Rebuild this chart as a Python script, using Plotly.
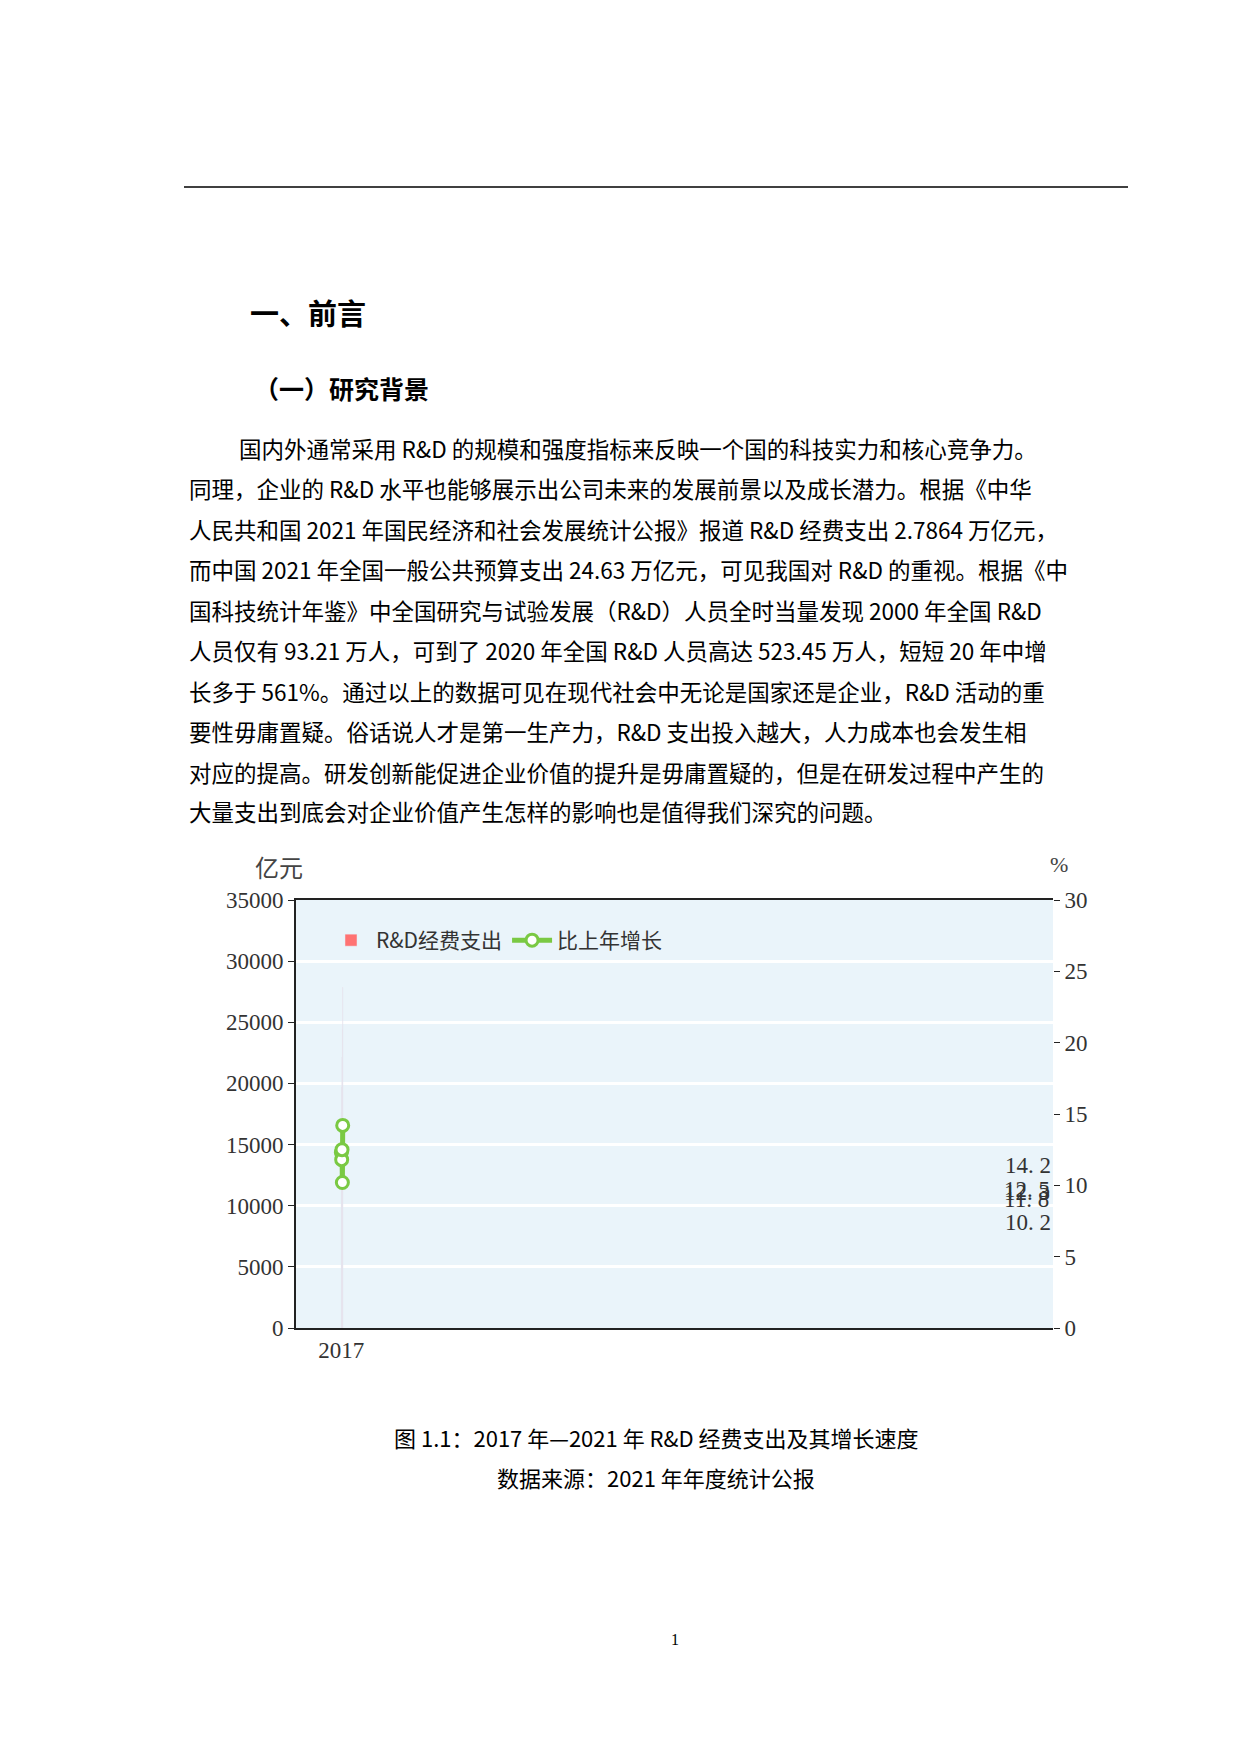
import plotly.graph_objects as go

W, H = 1240, 1754

years = ["2017", "2018", "2019", "2020", "2021"]
spend = [17606, 19678, 22144, 24393, 27864]
growth = [12.3, 11.8, 12.5, 10.2, 14.2]
left_ticks = [0, 5000, 10000, 15000, 20000, 25000, 30000, 35000]
right_ticks = [0, 5, 10, 15, 20, 25, 30]

heading1 = "一、前言"
heading2 = "（一）研究背景"
para_lines = [
    "国内外通常采用 R&D 的规模和强度指标来反映一个国的科技实力和核心竞争力。",
    "同理，企业的 R&D 水平也能够展示出公司未来的发展前景以及成长潜力。根据《中华",
    "人民共和国 2021 年国民经济和社会发展统计公报》报道 R&D 经费支出 2.7864 万亿元，",
    "而中国 2021 年全国一般公共预算支出 24.63 万亿元，可见我国对 R&D 的重视。根据《中",
    "国科技统计年鉴》中全国研究与试验发展（R&D）人员全时当量发现 2000 年全国 R&D",
    "人员仅有 93.21 万人，可到了 2020 年全国 R&D 人员高达 523.45 万人，短短 20 年中增",
    "长多于 561%。通过以上的数据可见在现代社会中无论是国家还是企业，R&D 活动的重",
    "要性毋庸置疑。俗话说人才是第一生产力，R&D 支出投入越大，人力成本也会发生相",
    "对应的提高。研发创新能促进企业价值的提升是毋庸置疑的，但是在研发过程中产生的",
    "大量支出到底会对企业价值产生怎样的影响也是值得我们深究的问题。",
]
caption = ["图 1.1：2017 年—2021 年 R&D 经费支出及其增长速度", "数据来源：2021 年年度统计公报"]

TXT = "Noto Sans CJK SC"
NUM = "Liberation Serif, Noto Sans CJK SC"

def px(x):
    return x / W

def py(y):
    return 1 - y / H

fig = go.Figure()
fig.add_trace(go.Bar(
    x=years, y=spend, name="R&D经费支出", marker_color="#ff7272", width=0.44,
    text=[str(v) for v in spend], textposition="outside",
    textfont=dict(size=23, color="#333", family=NUM), cliponaxis=False,
))
fig.add_trace(go.Scatter(
    x=years, y=growth, name="比上年增长", yaxis="y2", mode="lines+markers",
    line=dict(color="#7ac943", width=5),
    marker=dict(size=12, color="white", line=dict(color="#7ac943", width=3)),
))

ann = []
for yr, g in zip(years, growth):
    ann.append(dict(x=yr, y=g, xref="x", yref="y2", text=f"{g:.1f}".replace(".", ". "),
                    showarrow=False, yshift=-40, font=dict(size=23, color="#333", family=NUM)))

def page_text(x, y, t, size, anchor="left", family=TXT):
    ann.append(dict(x=px(x), y=py(y), xref="paper", yref="paper", xanchor=anchor, yanchor="middle",
                    text=t, showarrow=False, font=dict(size=size, family=family, color="#000")))

page_text(240, 304, "<b>" + heading1 + "</b>", 29)
page_text(244, 380, "<b>" + heading2 + "</b>", 25)
line_y = [440, 480, 521, 561, 602, 642, 683, 723, 764, 803]
for i, (t, yy) in enumerate(zip(para_lines, line_y)):
    page_text(229 if i == 0 else 179, yy, t, 22.5)
ann.append(dict(x=px(245), y=py(858), xref="paper", yref="paper", text="亿元", showarrow=False,
                font=dict(size=24, family=TXT, color="#444")))
ann.append(dict(x=px(1062), y=py(856), xref="paper", yref="paper", text="%", showarrow=False,
                font=dict(size=22, family=NUM, color="#444")))
for t, yy in zip(caption, [1429, 1469]):
    page_text(648, yy, t, 22, anchor="center")
page_text(667, 1631, "1", 16, anchor="center", family=NUM)

fig.update_layout(
    width=W, height=H, margin=dict(l=0, r=0, t=0, b=0, pad=0, autoexpand=False),
    paper_bgcolor="white", plot_bgcolor="#eaf4fa",
    showlegend=True, bargap=0.56,
    legend=dict(orientation="h", x=px(318), y=py(912), xanchor="left", yanchor="top",
                bgcolor="rgba(0,0,0,0)", font=dict(size=21, family=TXT, color="#333"),
                itemwidth=40),
    xaxis=dict(type="category", domain=[px(288), px(1045)], showline=True, linecolor="#222", linewidth=2,
               mirror=True, automargin=False, tickfont=dict(size=23, family=NUM, color="#333")),
    yaxis=dict(domain=[py(1320), py(892)], range=[0, 35000], tickvals=left_ticks, tickformat="d",
               showgrid=True, gridcolor="white", gridwidth=3, showline=True, linecolor="#222", linewidth=2,
               ticks="outside", ticklen=6, tickcolor="#222", zeroline=False, automargin=False,
               tickfont=dict(size=23, family=NUM, color="#333")),
    yaxis2=dict(overlaying="y", side="right", range=[0, 30], tickvals=right_ticks, showgrid=False,
                ticks="outside", ticklen=6, tickcolor="#222", zeroline=False, automargin=False,
                tickfont=dict(size=23, family=NUM, color="#333")),
    annotations=ann,
    shapes=[dict(type="line", xref="paper", yref="paper", x0=px(176), x1=px(1120), y0=py(179), y1=py(179),
                 line=dict(color="#000", width=1.5))],
)

fig.write_html("out.html")
